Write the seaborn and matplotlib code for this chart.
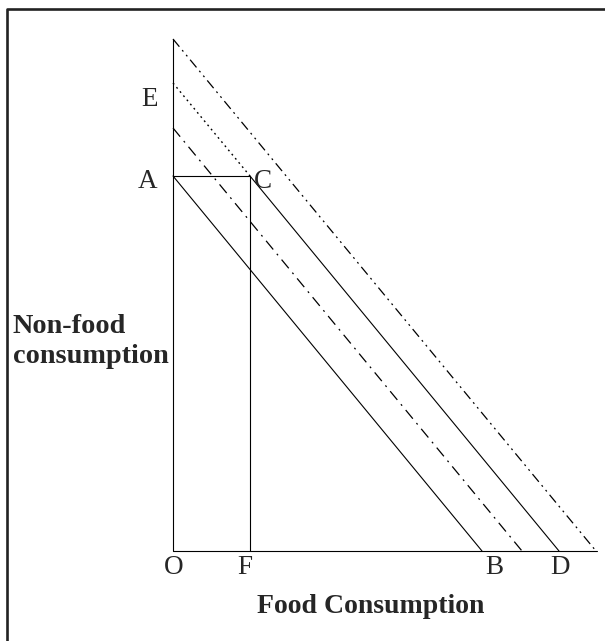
import pandas as pd
import matplotlib.pyplot as plt
import seaborn as sns
from matplotlib.lines import Line2D


# Diagram values (origin O at 0,0)
axis_top = 512
axis_right = 424
a_level = 375          # point A / C height
c_food = 77            # point C / F food amount
b_food = 309           # budget line A-B
e_level = 468          # line E-C-D
d_food = 386
dashdot_levels = [423, 349]    # intercept on y, intercept on x
dashdot2_levels = [512, 423]

point_names = ["A", "C", "E", "O", "F", "B", "D"]
point_x = [0, c_food, 0, 0, c_food, b_food, d_food]
point_y = [a_level, a_level, e_level, 0, 0, 0, 0]
label_dx = [-25, 13, -23, 1, -5, 12, 1]
label_dy = [-5, -5, -16, -17, -17, -17, -17]


def draw_line(ax, xs, ys, style, lw=0.8):
    df = pd.DataFrame({"x": xs, "y": ys})
    sns.lineplot(data=df, x="x", y="y", ax=ax, color="black", linestyle=style,
                 linewidth=lw, sort=False, estimator=None)


def plot_diagram():
    sns.set_style("white")
    plt.rcParams["font.family"] = ["Liberation Serif", "DejaVu Serif"]

    fig = plt.figure(figsize=(6.05, 6.41), dpi=100)
    ax = fig.add_axes([0, 0, 1, 1])

    # axes of the diagram
    draw_line(ax, [0, 0, axis_right], [axis_top, 0, 0], "-")
    # rectangle A-C-F
    draw_line(ax, [0, c_food, c_food], [a_level, a_level, 0], "-")
    # budget line A-B
    draw_line(ax, [0, b_food], [a_level, 0], "-")
    # E to C dotted, C to D solid
    draw_line(ax, [0, c_food], [e_level, a_level], (0, (1.3, 2.6)), lw=1.0)
    draw_line(ax, [c_food, d_food], [a_level, 0], "-")
    # dash-dot line
    draw_line(ax, [0, dashdot_levels[1]], [dashdot_levels[0], 0],
              (0, (9, 4.5, 1.5, 4.5)), lw=0.9)
    # dash-dot-dot line
    draw_line(ax, [0, dashdot2_levels[1]], [dashdot2_levels[0], 0],
              (0, (8, 3.5, 1.5, 3.5, 1.5, 3.5)), lw=0.9)

    for name, x, y, dx, dy in zip(point_names, point_x, point_y, label_dx, label_dy):
        ax.text(x + dx, y + dy, name, fontsize=19.5, ha="center", va="center")

    ax.text(198, -62, "Food Consumption", fontsize=20, fontweight="bold",
            ha="center", va="baseline")
    ax.text(-160, 218, "Non-food", fontsize=20.3, fontweight="bold",
            ha="left", va="baseline")
    ax.text(-160, 188, "consumption", fontsize=20.3, fontweight="bold",
            ha="left", va="baseline")

    ax.set_xlim(-173, 432)
    ax.set_ylim(-90, 551)
    ax.axis("off")

    # frame around the figure
    fx, fy = 7 / 605, 1 - 9 / 641
    fig.add_artist(Line2D([fx, fx, 1.0], [0.0, fy, fy], color="#222222",
                          linewidth=1.9, transform=fig.transFigure))

    fig.savefig("out.png", dpi=100)


def main():
    plot_diagram()


if __name__ == "__main__":
    main()
